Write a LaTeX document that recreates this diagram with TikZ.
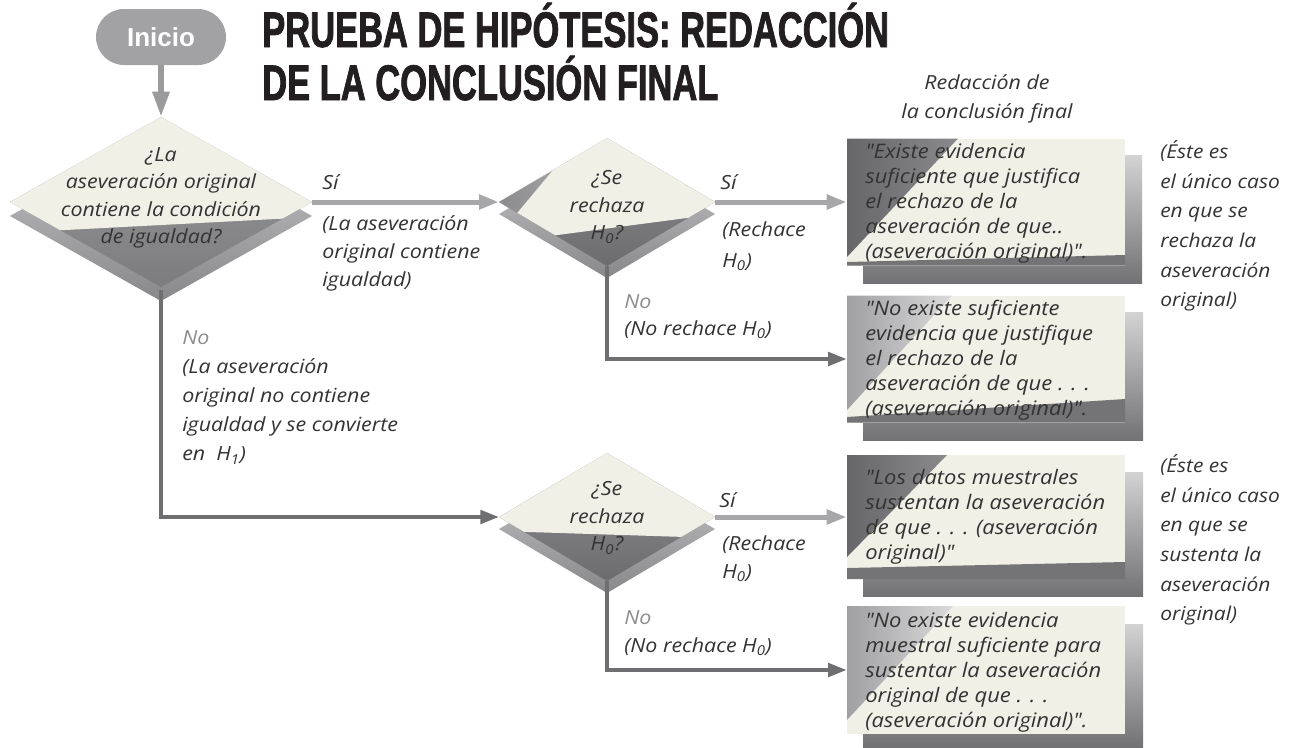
\documentclass[tikz,border=0pt]{standalone}
\usepackage{fontspec}
\setmainfont{Liberation Sans}
\newfontfamily\hand[FakeStretch=1.1]{Open Sans}
\newfontfamily\titlefont[FakeStretch=0.69,BoldFeatures={FakeBold=1.5}]{Liberation Sans}
\usetikzlibrary{arrows.meta}
\definecolor{cream}{HTML}{F0F0E7}
\definecolor{txt}{HTML}{333333}
\definecolor{nocol}{HTML}{8C8C8E}
\definecolor{lightarrow}{HTML}{A7A7AA}
\definecolor{darkarrow}{HTML}{6F6F72}
\definecolor{iniciogray}{HTML}{A2A2A5}
\definecolor{inicioarrow}{HTML}{9B9B9E}
\definecolor{shtop}{HTML}{D3D3D4}
\definecolor{shbot}{HTML}{727275}
\definecolor{dmtop}{HTML}{929295}
\definecolor{dmbot}{HTML}{6C6C6F}
\definecolor{dmtopa}{HTML}{9C9C9F}
\definecolor{dmbota}{HTML}{7C7C7F}
\definecolor{dsh1}{HTML}{CACACC}
\definecolor{dsh2}{HTML}{88888B}
\definecolor{tri1}{HTML}{67676A}
\definecolor{tri2}{HTML}{8A8A8D}
\definecolor{tril1}{HTML}{A0A0A3}
\definecolor{tril2}{HTML}{DADADA}
\definecolor{wedgecol}{HTML}{747477}
\definecolor{titlecol}{HTML}{231F20}
\begin{document}
\begin{tikzpicture}[x=0.75pt,y=-0.75pt,
  handtext/.style={font=\hand\itshape\fontsize{14.6}{21.75}\selectfont, text=txt, inner sep=0pt, align=left, anchor=west},
  notext/.style={handtext, text=nocol},
  boxtext/.style={font=\hand\itshape\fontsize{15}{18.75}\selectfont, text=txt, inner sep=0pt, align=left, anchor=west},
  diamtext/.style={font=\hand\itshape\fontsize{14.6}{20.6}\selectfont, text=txt, inner sep=0pt, align=center},
  notetext/.style={font=\hand\itshape\fontsize{14.3}{22.2}\selectfont, text=txt, inner sep=0pt, align=left, anchor=west},
  titletext/.style={font=\titlefont\bfseries\fontsize{37.5}{40}\selectfont, text=titlecol, inner sep=0pt, anchor=base west},
  frontbox/.style={fill=cream, draw=none, inner sep=0pt, minimum width=208.5pt},
  lightarr/.style={draw=lightarrow, line width=3.75pt, -{Triangle[length=15pt,width=10.5pt]}},
  darkarr/.style={draw=darkarrow, line width=3pt, -{Triangle[length=14pt,width=10pt]}},
  iniarr/.style={draw=inicioarrow, line width=4.5pt, -{Triangle[length=19pt,width=12pt]}},
  iniciobox/.style={fill=iniciogray, rounded corners=21pt, minimum width=97.5pt, minimum height=42pt, text=white, font=\bfseries\fontsize{19.5}{20}\selectfont}
]
\useasboundingbox (0,0) rectangle (1305,747);

% ---------- title ----------
\node[titletext] (title1) at (262,47) {PRUEBA DE HIPÓTESIS: REDACCIÓN};
\node[titletext] (title2) at (262,100) {DE LA CONCLUSIÓN FINAL};
\node[iniciobox] (inicio) at (161,37) {Inicio};

% ---------- diamond 1 ----------
\shade[top color=dsh1, bottom color=dsh2] (10,216) -- (161,131) -- (312,216) -- (161,301) -- cycle;
\shade[top color=dmtopa, bottom color=dmbota] (10,202) -- (161,117) -- (312,202) -- (161,287) -- cycle;
\begin{scope}
  \clip (10,202) -- (161,117) -- (312,202) -- (161,287) -- cycle;
  \fill[cream] (8,115) -- (314,115) -- (314,217) -- (8,233) -- cycle;
\end{scope}
\coordinate (d1n) at (161,117);
\coordinate (d1e) at (312,202);
\coordinate (d1s) at (161,290);
\node[diamtext] (d1t) at (161,198) {¿La\\aseveración original\\contiene la condición\\de igualdad?};

% ---------- diamond 2 ----------
\shade[top color=dsh1, bottom color=dsh2] (499,214) -- (607,150) -- (715,214) -- (607,278) -- cycle;
\shade[top color=dmtop, bottom color=dmbot] (499,202) -- (607,138) -- (715,202) -- (607,266) -- cycle;
\begin{scope}
  \clip (499,202) -- (607,138) -- (715,202) -- (607,266) -- cycle;
  \fill[cream] (497,136) -- (717,136) -- (717,214) -- (497,243) -- cycle;
\end{scope}
\shade[left color=tri2, right color=tril1] (499,202) -- (552,171) -- (517,213) -- cycle;
\coordinate (d2w) at (499,202);
\coordinate (d2e) at (715,202);
\coordinate (d2s) at (607,266);
\node[diamtext] (d2t) at (607,207) {¿Se\\rechaza\\H\textsubscript{0}?};

% ---------- diamond 3 ----------
\shade[top color=dsh1, bottom color=dsh2] (499,529) -- (607,465) -- (715,529) -- (607,593) -- cycle;
\shade[top color=dmtop, bottom color=dmbot] (499,517) -- (607,453) -- (715,517) -- (607,581) -- cycle;
\begin{scope}
  \clip (499,517) -- (607,453) -- (715,517) -- (607,581) -- cycle;
  \fill[cream] (497,451) -- (717,451) -- (717,538) -- (497,531) -- cycle;
\end{scope}
\coordinate (d3w) at (499,517);
\coordinate (d3e) at (715,517);
\coordinate (d3s) at (607,581);
\node[diamtext] (d3t) at (607,518) {¿Se\\rechaza\\H\textsubscript{0}?};

% ---------- boxes ----------
\shade[top color=shtop, bottom color=shbot] (863,155.5) rectangle (1142,283);
\node[frontbox, minimum height=95.25pt] (b1) at (986,202) {};
\shade[left color=tri1, right color=tri2] (847,138.5) -- (958,138.5) -- (847,257) -- cycle;
\fill[wedgecol] (847,262) -- (1125,255) -- (1125,265.5) -- (847,265.5) -- cycle;

\shade[top color=shtop, bottom color=shbot] (863,312.5) rectangle (1143,440.5);
\node[frontbox, minimum height=95.25pt] (b2) at (986,359) {};
\shade[left color=tril1, right color=tril2] (847,295.5) -- (952,295.5) -- (847,410) -- cycle;
\fill[wedgecol] (847,417) -- (1125,399) -- (1125,422.5) -- (847,422.5) -- cycle;

\shade[top color=shtop, bottom color=shbot] (863,472) rectangle (1143,596);
\node[frontbox, minimum height=93pt] (b3) at (986,517) {};
\shade[left color=tri1, right color=tri2] (847,455) -- (947,455) -- (847,557) -- cycle;
\fill[wedgecol] (847,568) -- (1125,562) -- (1125,579) -- (847,579) -- cycle;

\shade[top color=shtop, bottom color=shbot] (863,624) rectangle (1143,747);
\node[frontbox, minimum height=96pt] (b4) at (986,670) {};
\shade[left color=tril1, right color=tril2] (847,606) -- (953,606) -- (847,720) -- cycle;

\node[boxtext] (bt1) at (865,203) {"Existe evidencia\\suficiente que justifica\\el rechazo de la\\aseveración de que..\\(aseveración original)".};
\node[boxtext] (bt2) at (865,360) {"No existe suficiente\\evidencia que justifique\\el rechazo de la\\aseveración de que . . .\\(aseveración original)".};
\node[boxtext] (bt3) at (865,517) {"Los datos muestrales\\sustentan la aseveración\\de que . . . (aseveración\\original)"};
\node[boxtext] (bt4) at (865,672) {"No existe evidencia\\muestral suficiente para\\sustentar la aseveración\\original de que . . .\\(aseveración original)".};

% ---------- connectors ----------
\draw[iniarr] (inicio) -- (d1n);
\draw[lightarr] (d1e) -- (d2w);
\draw[darkarr] (d1s) |- (d3w);
\draw[lightarr] (d2e) -- (b1.west);
\draw[darkarr] (d2s) |- (b2.west);
\draw[lightarr] (d3e) -- (b3.west);
\draw[darkarr] (d3s) |- (b4.west);

% ---------- labels ----------
\node[handtext] (s1) at (322,182) {Sí};
\node[handtext, font=\hand\itshape\fontsize{14.6}{21}\selectfont] (s1b) at (322,253) {(La aseveración\\original contiene\\igualdad)};
\node[handtext] (s2) at (720,182) {Sí};
\node[handtext, font=\hand\itshape\fontsize{14.6}{23}\selectfont] (s2b) at (722,246) {(Rechace\\H\textsubscript{0})};
\node[notext] (n2) at (624,302) {No};
\node[handtext] (n2b) at (624,330) {(No rechace H\textsubscript{0})};
\node[handtext] (s3) at (719,500) {Sí};
\node[handtext, font=\hand\itshape\fontsize{14.6}{21}\selectfont] (s3b) at (722,559) {(Rechace\\H\textsubscript{0})};
\node[notext] (n3) at (624,618) {No};
\node[handtext] (n3b) at (624,647) {(No rechace H\textsubscript{0})};
\node[notext] (n1) at (182,338) {No};
\node[handtext] (n1b) at (182,411.5) {(La aseveración\\original no contiene\\igualdad y se convierte\\en\ \ H\textsubscript{1})};

\node[handtext, align=center, anchor=center] (hdr) at (987,98.5) {Redacción de\\la conclusión final};
\node[notetext] (note1) at (1160,226) {(Éste es\\el único caso\\en que se\\rechaza la\\aseveración\\original)};
\node[notetext] (note2) at (1160,540) {(Éste es\\el único caso\\en que se\\sustenta la\\aseveración\\original)};
\end{tikzpicture}
\end{document}
